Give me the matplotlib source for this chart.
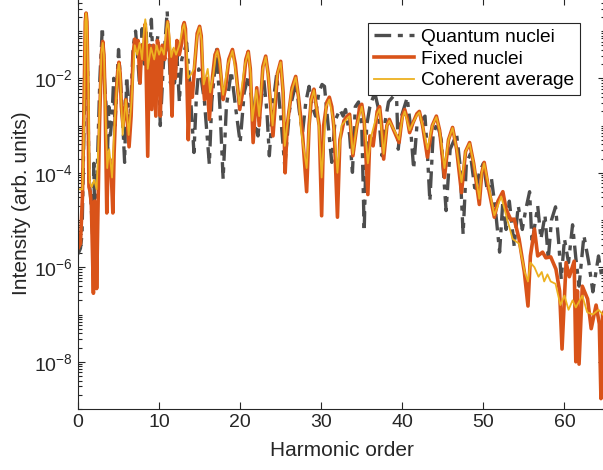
import matplotlib
matplotlib.use("Agg")
import matplotlib.pyplot as plt
from matplotlib.ticker import LogLocator, FixedLocator, FuncFormatter
import numpy as np

plt.rcParams['font.family'] = ['Liberation Sans', 'DejaVu Sans']
plt.rcParams['mathtext.fontset'] = 'custom'
plt.rcParams['mathtext.rm'] = 'Liberation Sans'
plt.rcParams['mathtext.default'] = 'regular'

# values, as log10 of the intensity
quantum_h = [0.0, 0.3, 0.5, 0.75, 1.0, 1.2, 1.35, 1.6, 1.8, 1.95, 2.1, 2.25, 2.4, 2.7, 3.0,
             3.3, 3.5, 3.65, 3.8, 4.0, 4.2, 4.4, 4.55, 5.0, 5.4, 5.75, 6.0, 6.2, 6.4, 6.8,
             7.1, 7.3, 7.6, 7.9, 8.2, 8.4, 8.7, 9.05, 9.3, 9.6, 9.85, 10.15, 10.5, 11.0, 11.4,
             11.7, 11.9, 12.2, 12.5, 12.8, 13.4, 13.8, 14.3, 14.6, 14.9, 15.2, 15.6, 16.2, 16.5,
             17.1, 17.5, 17.9, 18.3, 18.9, 19.5, 20.0, 20.5, 21.0, 21.4, 21.8, 22.2, 22.5, 22.9,
             23.3, 23.6, 24.0, 24.5, 25.0, 25.5, 26.1, 26.9, 27.3, 27.7, 28.1, 28.5, 28.9, 29.3,
             29.7, 30.1, 30.4, 30.8, 31.3, 31.7, 32.3, 32.7, 33.0, 33.5, 33.85, 34.2, 34.6, 35.0,
             35.3, 35.6, 36.0, 36.6, 37.0, 37.5, 37.9, 38.3, 38.9, 39.3, 39.5, 39.9, 40.6, 41.0,
             41.4, 41.8, 42.3, 42.8, 43.1, 43.4, 43.8, 44.3, 44.8, 45.4, 45.9, 46.7, 47.1, 47.5,
             47.9, 48.4, 49.0, 49.5, 50.0, 50.5, 51.0, 51.5, 52.0, 52.4, 52.8, 53.2, 53.8, 54.3,
             54.8, 55.2, 55.7, 56.0, 56.7, 57.1, 57.6, 58.0, 58.4, 58.9, 59.3, 59.6, 60.0, 60.5,
             61.0, 61.4, 61.8, 62.4, 63.0, 63.5, 64.2, 64.6, 65.0]
quantum_log = [-5.72, -5.6, -5.3, -3.0, -0.58, -2.0, -4.13, -4.6, -5.3, -3.8, -5.4, -4.9, -3.78, -2.0, -0.92,
               -2.2, -2.66, -3.5, -2.6, -3.2, -2.8, -2.0, -3.0, -1.39, -2.5, -3.78, -1.96, -2.6, -3.0, -1.33,
               -1.0, -1.4, -2.17, -0.95, -1.7, -1.03, -2.0, -0.75, -1.9, -1.4, -1.1, -3.0, -1.8, -0.58, -2.1,
               -1.5, -2.1, -1.5, -2.5, -1.6, -1.25, -2.17, -3.57, -2.4, -1.8, -2.0, -2.5, -3.82, -2.5,
               -1.39, -2.6, -4.13, -2.6, -1.85, -2.7, -3.36, -2.3, -1.96, -2.4, -3.0, -3.22, -2.6, -1.99,
               -2.7, -3.64, -2.6, -1.92, -2.8, -3.86, -2.66, -2.09, -2.7, -3.15, -2.5, -2.17, -2.6, -2.8,
               -2.3, -2.13, -2.17, -2.9, -3.78, -2.9, -2.66, -2.8, -2.66, -3.2, -3.99, -2.6, -2.5, -3.0,
               -5.24, -3.0, -2.6, -2.3, -2.6, -3.64, -2.9, -2.5, -2.38, -2.45, -3.5, -2.8, -2.41, -3.0,
               -3.92, -3.0, -2.9, -2.8, -3.6, -4.6, -3.2, -2.94, -3.3, -4.8, -3.5, -3.19, -3.8, -5.3,
               -3.8, -3.6, -4.42, -4.0, -3.8, -4.4, -4.13, -4.8, -5.68, -4.6, -5.2, -4.6, -5.55, -4.7,
               -5.2, -4.8, -4.4, -5.5, -4.7, -5.4, -4.9, -5.83, -5.0, -4.72, -5.5, -6.25, -5.4, -5.9,
               -5.1, -5.8, -6.4, -5.33, -5.9, -6.52, -5.76, -6.2, -6.0]

fixed_h = [0.0, 0.3, 0.55, 0.75, 0.9, 1.0, 1.1, 1.2, 1.35, 1.5, 1.65, 1.9, 2.05, 2.2, 2.3,
           2.45, 2.65, 2.9, 3.05, 3.2, 3.35, 3.55, 3.7, 3.9, 4.1, 4.3, 4.45, 4.7, 4.9, 5.05,
           5.2, 5.35, 5.55, 5.9, 6.3, 6.55, 6.8, 7.0, 7.2, 7.4, 7.65, 7.85, 8.05, 8.3, 8.6,
           8.8, 9.1, 9.3, 9.6, 9.8, 10.0, 10.15, 10.4, 10.7, 11.05, 11.35, 11.6, 11.8, 12.0,
           12.2, 12.5, 12.8, 12.95, 13.1, 13.25, 13.4, 13.6, 13.85, 14.1, 14.4, 14.7, 15.0, 15.2,
           15.4, 15.6, 15.9, 16.2, 16.6, 16.9, 17.2, 17.45, 17.9, 18.2, 18.6, 19.05, 19.4, 19.95,
           20.3, 20.7, 21.0, 21.25, 21.6, 22.05, 22.35, 22.8, 23.15, 23.45, 24.05, 24.6, 25.0, 25.3,
           25.55, 25.8, 26.4, 26.85, 27.2, 27.7, 28.2, 28.5, 28.8, 29.1, 29.4, 29.75, 30.05, 30.3,
           30.7, 31.0, 31.3, 31.6, 32.0, 32.3, 32.8, 33.2, 33.5, 33.9, 34.4, 34.75, 35.0, 35.3,
           35.75, 36.0, 36.4, 36.9, 37.2, 37.45, 37.7, 38.1, 38.4, 38.9, 39.6, 40.0, 40.3, 40.6,
           40.9, 41.3, 41.8, 42.1, 42.5, 43.1, 43.7, 44.2, 44.6, 45.2, 45.7, 46.2, 46.7, 47.3,
           47.8, 48.3, 48.8, 49.5, 49.8, 50.1, 50.6, 51.35, 51.8, 52.4, 52.8, 53.4, 53.8, 54.4,
           55.05, 55.5, 55.8, 56.3, 56.7, 57.3, 57.7, 58.3, 58.95, 59.4, 59.7, 60.2, 60.6, 61.2,
           61.4, 61.6, 61.8, 62.2, 62.85, 63.3, 63.9, 64.3, 64.5, 64.7, 65.0]
fixed_log = [-5.6, -5.5, -4.5, -2.5, -0.8, -0.62, -0.8, -1.8, -4.3, -4.4, -4.7, -6.55, -4.6, -5.0, -6.45,
             -4.9, -3.0, -1.45, -1.22, -1.5, -2.5, -4.85, -3.9, -3.7, -4.0, -4.85, -3.6, -2.4, -1.85, -1.66,
             -1.9, -2.6, -3.0, -2.45, -3.45, -2.8, -1.5, -1.17, -1.4, -1.2, -2.1, -1.3, -1.6, -0.85, -3.65,
             -1.3, -2.66, -1.3, -2.8, -1.2, -1.5, -2.8, -1.3, -1.6, -0.8, -1.6, -2.8, -1.4, -2.0,
             -1.2, -1.5, -1.25, -0.9, -0.82, -0.95, -1.8, -3.3, -2.1, -2.4, -1.7, -1.05, -0.9, -1.1,
             -2.0, -2.45, -2.0, -2.87, -1.96, -1.5, -1.39, -1.6, -2.45, -2.2, -1.6, -1.39, -1.7, -2.66,
             -2.3, -1.6, -1.43, -1.8, -3.36, -2.2, -3.0, -1.75, -1.53, -1.9, -3.22, -1.9, -1.64, -2.3,
             -4.0, -3.0, -2.2, -1.96, -2.4, -3.2, -4.4, -3.0, -2.4, -2.23, -2.6, -3.0, -4.91, -3.0,
             -2.5, -2.4, -2.6, -3.1, -4.94, -3.3, -2.9, -2.8, -2.76, -3.64, -3.0, -2.6, -2.55, -2.9,
             -4.46, -3.22, -3.43, -2.7, -2.6, -3.0, -3.71, -3.0, -2.87, -3.08, -3.36, -2.8, -2.66, -2.85,
             -3.15, -2.95, -2.75, -2.7, -3.0, -3.67, -3.0, -2.8, -3.1, -4.1, -3.3, -3.04, -3.5, -4.42,
             -3.55, -3.36, -3.8, -4.67, -4.0, -3.78, -4.3, -4.94, -4.6, -4.4, -4.77, -5.0, -4.98, -5.4,
             -6.1, -6.82, -5.76, -5.19, -5.76, -5.68, -5.8, -5.78, -6.04, -6.5, -7.73, -5.9, -6.2, -5.87,
             -8.0, -6.5, -8.05, -6.4, -6.67, -7.3, -6.8, -7.2, -8.78, -7.0, -6.9]

coherent_h = [0.0, 0.55, 0.75, 0.9, 1.0, 1.1, 1.25, 1.45, 1.7, 2.0, 2.3, 2.6, 2.9, 3.05, 3.2,
              3.4, 3.6, 3.85, 4.2, 4.5, 4.9, 5.05, 5.2, 5.5, 5.9, 6.25, 6.6, 7.0, 7.3, 7.6,
              7.9, 8.15, 8.3, 8.45, 8.6, 9.0, 9.4, 9.7, 10.0, 10.3, 10.6, 10.9, 11.05, 11.2, 11.5,
              11.8, 12.1, 12.5, 12.9, 13.1, 13.3, 13.6, 14.0, 14.3, 14.7, 15.0, 15.25, 15.5, 16.0,
              16.3, 16.7, 17.0, 17.2, 17.5, 17.9, 18.5, 19.05, 19.4, 19.9, 20.6, 21.0, 21.3, 21.5,
              22.0, 22.35, 22.8, 23.15, 23.5, 24.0, 24.6, 25.0, 25.3, 25.5, 26.3, 26.85, 27.2, 27.5,
              28.2, 28.7, 29.1, 29.4, 29.7, 30.05, 30.6, 31.0, 31.5, 32.0, 32.5, 33.2, 33.5, 33.9,
              34.4, 35.0, 35.3, 35.75, 36.2, 36.9, 37.2, 37.7, 38.1, 38.4, 39.0, 39.6, 40.0, 40.3,
              40.9, 41.3, 41.8, 42.1, 42.5, 43.1, 43.7, 44.2, 44.6, 45.2, 45.7, 46.2, 46.7, 47.3,
              47.8, 48.3, 48.8, 49.5, 49.8, 50.1, 51.35, 52.2, 52.8, 53.6, 54.4, 55.1, 55.5, 55.8,
              56.3, 56.8, 57.2, 57.5, 57.9, 58.3, 58.9, 59.5, 60.0, 60.5, 61.0, 61.4, 62.2, 62.8,
              63.5, 64.2, 65.0]
coherent_log = [-4.35, -4.35, -3.0, -0.8, -0.62, -0.8, -2.0, -4.2, -4.3, -4.15, -4.35, -3.0, -1.45, -1.25, -1.5,
                -2.8, -3.9, -3.5, -4.1, -3.0, -1.85, -1.68, -1.9, -3.2, -2.45, -3.2, -2.5, -1.3, -1.5, -1.25,
                -1.6, -0.95, -0.75, -0.95, -1.8, -1.35, -1.6, -1.3, -1.5, -1.35, -1.5, -0.95, -0.8, -0.95, -1.55,
                -1.35, -1.5, -1.3, -0.95, -0.85, -1.1, -2.0, -1.9, -1.8, -1.1, -0.92, -1.2, -2.13, -1.8,
                -2.3, -1.9, -1.5, -1.42, -1.7, -2.35, -1.7, -1.42, -1.8, -2.55, -1.7, -1.45, -1.9, -2.9,
                -2.25, -2.8, -1.8, -1.55, -2.0, -3.0, -1.9, -1.66, -2.3, -3.43, -2.3, -1.98, -2.4, -3.1,
                -3.9, -2.5, -2.25, -2.6, -3.0, -4.1, -2.6, -2.45, -2.9, -4.0, -3.0, -2.85, -2.8, -3.6,
                -3.0, -2.6, -2.9, -3.8, -3.2, -2.75, -2.65, -3.6, -3.0, -2.9, -3.1, -3.3, -2.85, -2.7,
                -3.1, -2.95, -2.78, -2.72, -3.0, -3.5, -3.0, -2.82, -3.1, -3.9, -3.3, -3.05, -3.5, -4.2,
                -3.55, -3.38, -3.8, -4.55, -4.0, -3.8, -4.9, -4.5, -4.9, -5.4, -5.5, -6.1, -6.3, -5.9,
                -6.0, -6.2, -6.1, -6.3, -6.15, -6.3, -6.35, -6.8, -6.6, -6.9, -6.7, -6.85, -6.6, -6.95,
                -7.0, -6.9, -7.05]

axis_color = '#262626'

fig = plt.figure(figsize=(6.03, 4.70), dpi=100)
ax = fig.add_axes([78 / 603, 61 / 470, 527 / 603, 411 / 470])

ax.plot(quantum_h, 10.0 ** np.array(quantum_log), color='#4d4d4d', lw=2.4,
        linestyle=(0, (5, 2, 1.5, 2)), label='Quantum nuclei')
ax.plot(fixed_h, 10.0 ** np.array(fixed_log), color='#D95319', lw=2.6, label='Fixed nuclei')
ax.plot(coherent_h, 10.0 ** np.array(coherent_log), color='#EDB120', lw=1.3, label='Coherent average')

ax.set_yscale('log')
ax.set_xlim(0, 65)
ax.set_ylim(1e-9, 10 ** -0.3)
ax.set_xticks([0, 10, 20, 30, 40, 50, 60])
ax.yaxis.set_major_locator(FixedLocator([1e-8, 1e-6, 1e-4, 1e-2]))
ax.yaxis.set_major_formatter(FuncFormatter(lambda v, p: r'$10^{%d}$' % round(np.log10(v))))
ax.yaxis.set_minor_locator(LogLocator(base=10, subs=np.arange(1, 10), numticks=30))
ax.yaxis.set_minor_formatter(FuncFormatter(lambda v, p: ''))

ax.tick_params(which='both', direction='in', top=True, right=True, colors=axis_color,
               labelsize=14, width=0.8)
ax.tick_params(which='major', length=5)
ax.tick_params(which='minor', length=3)
for s in ax.spines.values():
    s.set_color(axis_color)
    s.set_linewidth(0.8)

ax.set_xlabel('Harmonic order', fontsize=15, color=axis_color, labelpad=7)
ax.set_ylabel('Intensity (arb. units)', fontsize=15, color=axis_color, labelpad=2)

leg = ax.legend(loc='upper right', bbox_to_anchor=(580 / 603, 1 - 23 / 470), bbox_transform=fig.transFigure,
                fontsize=13.8, fancybox=False, framealpha=1, edgecolor=axis_color,
                borderpad=0.3, labelspacing=0.22, handlelength=2.1, handletextpad=0.35,
                borderaxespad=0)
leg.get_frame().set_linewidth(0.8)

fig.savefig('out.png', dpi=100)
